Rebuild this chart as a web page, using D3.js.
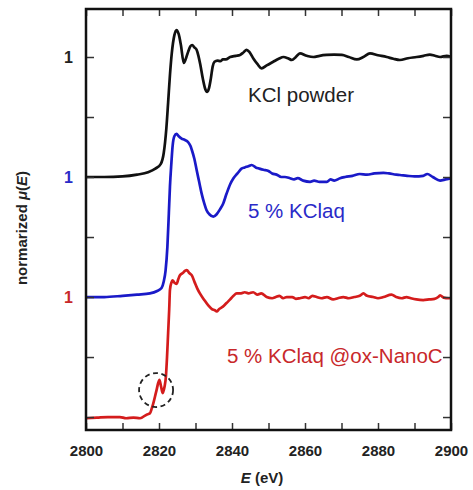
<!DOCTYPE html>
<html>
<head>
<meta charset="utf-8">
<script src="https://cdn.jsdelivr.net/npm/d3@7"></script>
<style>
  body { margin: 0; background: #fff; }
  text { font-family: "Liberation Sans", Arial, sans-serif; }
</style>
</head>
<body>
<div id="chart"></div>
<script>
// energies (eV) and normalized mu(E) for each spectrum
var kclE = [2800, 2805, 2810, 2814, 2817, 2819, 2820.5, 2821.3, 2822, 2822.5, 2823, 2823.5, 2824.2, 2824.8,
  2825.4, 2826, 2826.8, 2827.4, 2828, 2828.6, 2829.1, 2829.7, 2830.3, 2830.8, 2831.3, 2832, 2832.6, 2833.2,
  2833.7, 2834.2, 2834.7, 2835.2, 2836, 2836.8, 2837.5, 2838.3, 2839.5, 2841, 2842.2, 2843.2, 2844, 2844.8,
  2845.8, 2847, 2848.1, 2849.5, 2851.3, 2852.8, 2854.1, 2855.3, 2856.4, 2857.5, 2858.6, 2860.5, 2862.3,
  2864, 2865.9, 2868, 2870.1, 2872, 2874.2, 2876, 2877.8, 2880, 2882.4, 2884.2, 2886, 2888.2, 2890.6,
  2892.5, 2894.2, 2895.6, 2897, 2898.8, 2900];
var kclMu = [0, 0, 0.005, 0.02, 0.04, 0.07, 0.11, 0.2, 0.4, 0.62, 0.85, 1.03, 1.18, 1.225,
  1.19, 1.1, 0.95, 0.99, 1.045, 1.09, 1.1, 1.08, 1.06, 1.01, 0.94, 0.82, 0.74, 0.71,
  0.74, 0.82, 0.92, 0.96, 0.97, 0.965, 0.98, 0.98, 1.0, 1.01, 1.017, 1.04, 1.06, 1.04,
  0.99, 0.94, 0.905, 0.93, 0.96, 0.985, 1.0, 0.99, 0.975, 1.0, 1.03, 1.01, 1.0,
  1.01, 1.017, 1.02, 1.017, 1.0, 0.98, 1.0, 1.03, 1.015, 1.0, 0.985, 0.975, 0.99, 1.0,
  1.01, 1.02, 1.01, 1.0, 1.01, 1.0];

var aqE = [2800, 2805, 2810, 2814, 2817.5, 2819.5, 2820.7, 2821.3, 2821.8, 2822.3, 2822.7, 2823, 2823.4,
  2823.7, 2824.2, 2824.8, 2825.4, 2826.2, 2827, 2828, 2828.6, 2829, 2829.7, 2830.3, 2831, 2831.7, 2832.4,
  2833, 2833.8, 2834.9, 2835.8, 2836.7, 2837.6, 2838.5, 2839.5, 2840.4, 2841.5, 2842.6, 2843.5, 2844.5,
  2845.4, 2846.5, 2847.5, 2848.6, 2850, 2851, 2852.2, 2853.5, 2854.5, 2855.9, 2857, 2858, 2859.5, 2861.4,
  2862.5, 2864, 2866, 2867, 2868, 2869.6, 2871, 2873, 2875, 2877, 2879, 2881.5, 2883, 2885, 2886, 2888,
  2890, 2892.4, 2893.5, 2895, 2897, 2898.5, 2900];
var aqMu = [0, 0, 0.01, 0.02, 0.03, 0.05, 0.075, 0.13, 0.22, 0.42, 0.7, 0.92, 1.12,
  1.25, 1.34, 1.36, 1.34, 1.32, 1.31, 1.29, 1.26, 1.225, 1.15, 1.06, 0.96, 0.86, 0.78,
  0.725, 0.69, 0.67, 0.69, 0.73, 0.78, 0.86, 0.94, 0.99, 1.03, 1.07, 1.08, 1.09,
  1.1, 1.08, 1.07, 1.06, 1.05, 1.03, 1.02, 1.0, 1.0, 0.99, 0.98, 0.99, 0.97, 0.96,
  0.97, 0.96, 0.96, 0.98, 0.97, 0.99, 1.0, 1.01, 1.025, 1.02, 1.03, 1.035, 1.03, 1.02, 1.017, 1.01,
  1.005, 1.01, 1.025, 1.0, 0.97, 0.98, 0.99];

var ncE = [2800, 2803, 2806, 2809.3, 2811, 2813, 2814.8, 2816.6, 2817.5, 2818, 2818.4, 2819.3, 2820.1,
  2820.6, 2821, 2821.5, 2821.9, 2822.2, 2822.5, 2822.8, 2823, 2823.4, 2823.7, 2824.2, 2824.8, 2825.3,
  2825.7, 2826.5, 2827.2, 2827.6, 2828.3, 2829, 2829.8, 2830.5, 2831.2, 2832.3, 2833.5, 2834.5, 2835.3,
  2835.8, 2836.5, 2837.5, 2838.5, 2839.5, 2840.4, 2841.3, 2842.5, 2843.5, 2844.5, 2845.8, 2847, 2848,
  2849.5, 2851, 2852, 2853, 2854, 2855, 2856.5, 2857.5, 2858.6, 2860, 2861, 2862, 2863.2, 2864.5, 2866,
  2867.7, 2869, 2870.5, 2872, 2873.5, 2875, 2876, 2877, 2878.7, 2880, 2881.5, 2883.7, 2885, 2886.5,
  2887.8, 2889, 2890.5, 2892.4, 2894, 2895.5, 2896.5, 2897, 2898, 2899.3, 2900];
var ncMu = [-0.01, -0.005, 0, 0, -0.01, -0.005, -0.01, 0.02, 0.03, 0.07, 0.11, 0.22, 0.31,
  0.25, 0.2, 0.25, 0.34, 0.5, 0.7, 0.9, 1.06, 1.12, 1.14, 1.12, 1.11, 1.15,
  1.18, 1.2, 1.22, 1.225, 1.2, 1.18, 1.12, 1.07, 1.03, 0.98, 0.93, 0.9, 0.89,
  0.88, 0.9, 0.92, 0.95, 0.98, 1.01, 1.03, 1.03, 1.04, 1.03, 1.04, 1.02, 1.03,
  1.0, 0.99, 1.0, 1.01, 0.99, 1.0, 1.0, 0.985, 0.99, 1.0, 0.99, 1.01, 1.0, 0.99, 1.0,
  0.98, 0.99, 1.0, 0.99, 1.0, 1.01, 1.03, 1.01, 1.0, 0.99, 1.0, 1.02, 1.0, 0.99,
  1.0, 0.99, 0.98, 0.975, 0.98, 0.985, 1.0, 1.015, 0.995, 0.99, 0.99];

var names = ["KCl powder", "5 % KClaq", "5 % KClaq @ox-NanoC"];
var offsets = [2, 1, 0];
var colors = ["#111111", "#1a1ac8", "#d41c1c"];
var textColors = ["#222222", "#2a2ac8", "#c8282a"];
var yTicks = [0, 0.5, 1, 1.5, 2, 2.5, 3];
var xTicks = [2800, 2810, 2820, 2830, 2840, 2850, 2860, 2870, 2880, 2890, 2900];
// pre-edge feature that is circled
var circleAt = { e: 2819.2, mu: 0.225 };

var w = 473, h = 490;
var m = { left: 86, right: 451, top: 9, bottom: 430 };

var x = d3.scaleLinear().domain([2800, 2900]).range([m.left, m.right]);
var y = d3.scaleLinear().domain([-0.108, 3.4]).range([m.bottom, m.top]);

var svg = d3.select("#chart").append("svg")
  .attr("width", w)
  .attr("height", h);

var series = [
  { e: kclE, mu: kclMu },
  { e: aqE, mu: aqMu },
  { e: ncE, mu: ncMu }
];

var line = d3.line()
  .x(function(d) { return x(d[0]); })
  .y(function(d) { return y(d[1]); })
  .curve(d3.curveMonotoneX);

// curves
series.forEach(function(s, i) {
  var pts = s.e.map(function(e, j) { return [e, s.mu[j] + offsets[i]]; });
  svg.append("path")
    .attr("d", line(pts))
    .attr("fill", "none")
    .attr("stroke", colors[i])
    .attr("stroke-width", 2.7)
    .attr("stroke-linejoin", "round");
});

// dashed circle
svg.append("circle")
  .attr("cx", x(circleAt.e))
  .attr("cy", y(circleAt.mu))
  .attr("r", 17)
  .attr("fill", "none")
  .attr("stroke", "#222")
  .attr("stroke-width", 1.8)
  .attr("stroke-dasharray", "5,3.5");

// axes, ticks pointing inward
var fmtX = function(d) { return d % 20 === 0 ? d : ""; };
var gx = svg.append("g")
  .attr("transform", "translate(0," + m.bottom + ")")
  .call(d3.axisBottom(x).tickValues(xTicks).tickSize(-7).tickPadding(15).tickFormat(fmtX));
var gxt = svg.append("g")
  .attr("transform", "translate(0," + m.top + ")")
  .call(d3.axisTop(x).tickValues(xTicks).tickSize(-7).tickFormat(""));
var gy = svg.append("g")
  .attr("transform", "translate(" + m.left + ",0)")
  .call(d3.axisLeft(y).tickValues(yTicks).tickSize(-8).tickPadding(13)
    .tickFormat(function(d) { return offsets.indexOf(d - 1) >= 0 ? "1" : ""; }));
var gyr = svg.append("g")
  .attr("transform", "translate(" + m.right + ",0)")
  .call(d3.axisRight(y).tickValues(yTicks).tickSize(-8).tickFormat(""));

[gx, gxt, gy, gyr].forEach(function(g) {
  g.select(".domain").remove();
  g.selectAll(".tick line").attr("stroke", "#333").attr("stroke-width", 1.5);
  g.selectAll("text")
    .attr("font-family", "Liberation Sans, Arial, sans-serif")
    .attr("font-size", 15)
    .attr("font-weight", "bold")
    .attr("fill", "#222");
});
gy.selectAll("text")
  .attr("font-size", 16)
  .attr("fill", function(d) {
    var k = offsets.indexOf(d - 1);
    return k >= 0 ? textColors[k] : "#222";
  });

// frame
svg.append("rect")
  .attr("x", m.left)
  .attr("y", m.top)
  .attr("width", m.right - m.left)
  .attr("height", m.bottom - m.top)
  .attr("fill", "none")
  .attr("stroke", "#111")
  .attr("stroke-width", 2.5);

// spectrum labels
var labelPos = [[248, 102], [248, 218], [227, 363]];
names.forEach(function(n, i) {
  svg.append("text")
    .attr("x", labelPos[i][0])
    .attr("y", labelPos[i][1])
    .attr("font-size", 20.5)
    .attr("fill", textColors[i])
    .text(n);
});

// axis titles
var xl = svg.append("text")
  .attr("x", 262)
  .attr("y", 483)
  .attr("text-anchor", "middle")
  .attr("font-size", 15)
  .attr("font-weight", "bold")
  .attr("fill", "#222");
xl.append("tspan").attr("font-style", "italic").text("E");
xl.append("tspan").text(" (eV)");

var yl = svg.append("text")
  .attr("transform", "translate(27,228) rotate(-90)")
  .attr("text-anchor", "middle")
  .attr("font-size", 15)
  .attr("font-weight", "bold")
  .attr("fill", "#222");
yl.append("tspan").text("normarized ");
yl.append("tspan").attr("font-style", "italic").text("\u03bc");
yl.append("tspan").text("(");
yl.append("tspan").attr("font-style", "italic").text("E");
yl.append("tspan").text(")");
</script>
</body>
</html>
